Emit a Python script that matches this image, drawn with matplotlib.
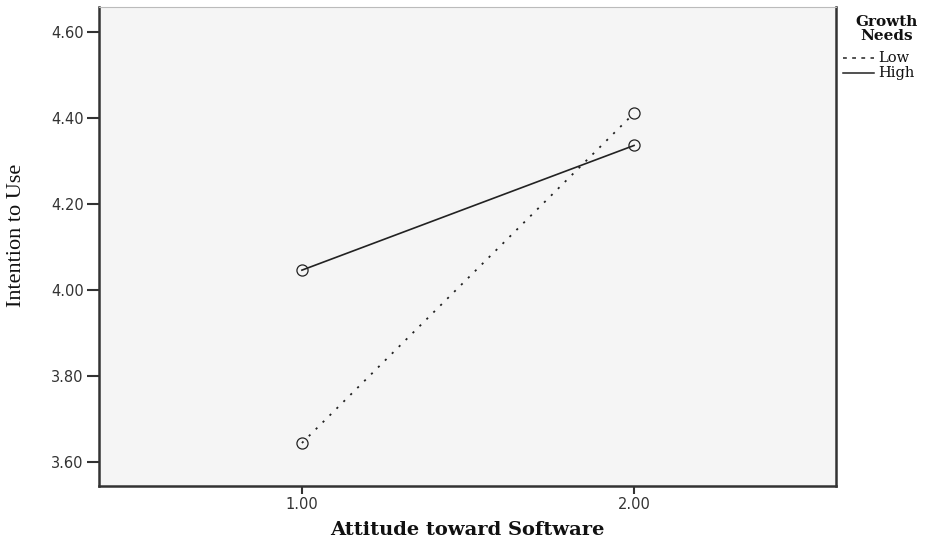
import matplotlib
matplotlib.use("Agg")
import matplotlib.pyplot as plt
from matplotlib.lines import Line2D

x_vals = [1.0, 2.0]
low_vals = [3.644, 4.411]
high_vals = [4.046, 4.336]
series_names = ["Low", "High"]
legend_title = "Growth\nNeeds"
x_ticks = [1.0, 2.0]
y_ticks = [3.60, 3.80, 4.00, 4.20, 4.40, 4.60]

W, H = 933, 542
fig = plt.figure(figsize=(W / 100, H / 100), dpi=100)
ax = fig.add_axes([99 / W, 1 - 486 / H, (836 - 99) / W, (486 - 7) / H])
ax.set_facecolor("#f5f5f5")

ax.plot(x_vals, low_vals, color="#222222", lw=1.3, linestyle=(0, (1.2, 4.2)),
        marker="o", markersize=8, fillstyle="none", mew=0.9)
ax.plot(x_vals, high_vals, color="#222222", lw=1.2, linestyle="-",
        marker="o", markersize=8, fillstyle="none", mew=0.9)

ax.set_xlim(0.389, 2.608)
ax.set_ylim(3.544, 4.658)
ax.set_xticks(x_ticks)
ax.set_xticklabels([f"{v:.2f}" for v in x_ticks])
ax.set_yticks(y_ticks)
ax.set_yticklabels([f"{v:.2f}" for v in y_ticks])

for s in ["left", "bottom", "right"]:
    ax.spines[s].set_color("#333333")
    ax.spines[s].set_linewidth(1.8)
ax.spines["top"].set_color("#bbbbbb")
ax.spines["top"].set_linewidth(0.8)

ax.tick_params(axis="y", direction="out", length=9, width=1.5, color="#333333",
               labelsize=10.5, labelcolor="#333333", pad=2)
ax.tick_params(axis="x", direction="out", length=6, width=1.5, color="#333333",
               labelsize=10.5, labelcolor="#333333", pad=2)
for lab in ax.get_xticklabels() + ax.get_yticklabels():
    lab.set_family("DejaVu Sans")

fig.text(467 / W, 1 - 530 / H, "Attitude toward Software", ha="center", va="center",
         family="DejaVu Serif", fontweight="bold", fontsize=14, color="#111111")
fig.text(17 / W, 1 - 235 / H, "Intention to Use", ha="center", va="center",
         rotation=90, family="Liberation Serif", fontsize=16, color="#111111")

# legend
fig.text(887 / W, 1 - 29 / H, legend_title, ha="center", va="center",
         family="DejaVu Serif", fontweight="bold", fontsize=11,
         linespacing=1.05, color="#111111")
fig.add_artist(Line2D([843 / W, 874 / W], [1 - 58 / H, 1 - 58 / H],
                      transform=fig.transFigure, color="#222222", lw=1.1,
                      linestyle=(0, (2.5, 3.5))))
fig.add_artist(Line2D([843 / W, 874 / W], [1 - 73 / H, 1 - 73 / H],
                      transform=fig.transFigure, color="#222222", lw=1.1))
fig.text(878 / W, 1 - 58 / H, series_names[0], ha="left", va="center",
         family="DejaVu Serif", fontsize=10.5, color="#111111")
fig.text(878 / W, 1 - 73 / H, series_names[1], ha="left", va="center",
         family="DejaVu Serif", fontsize=10.5, color="#111111")

fig.savefig("out.png", dpi=100)
